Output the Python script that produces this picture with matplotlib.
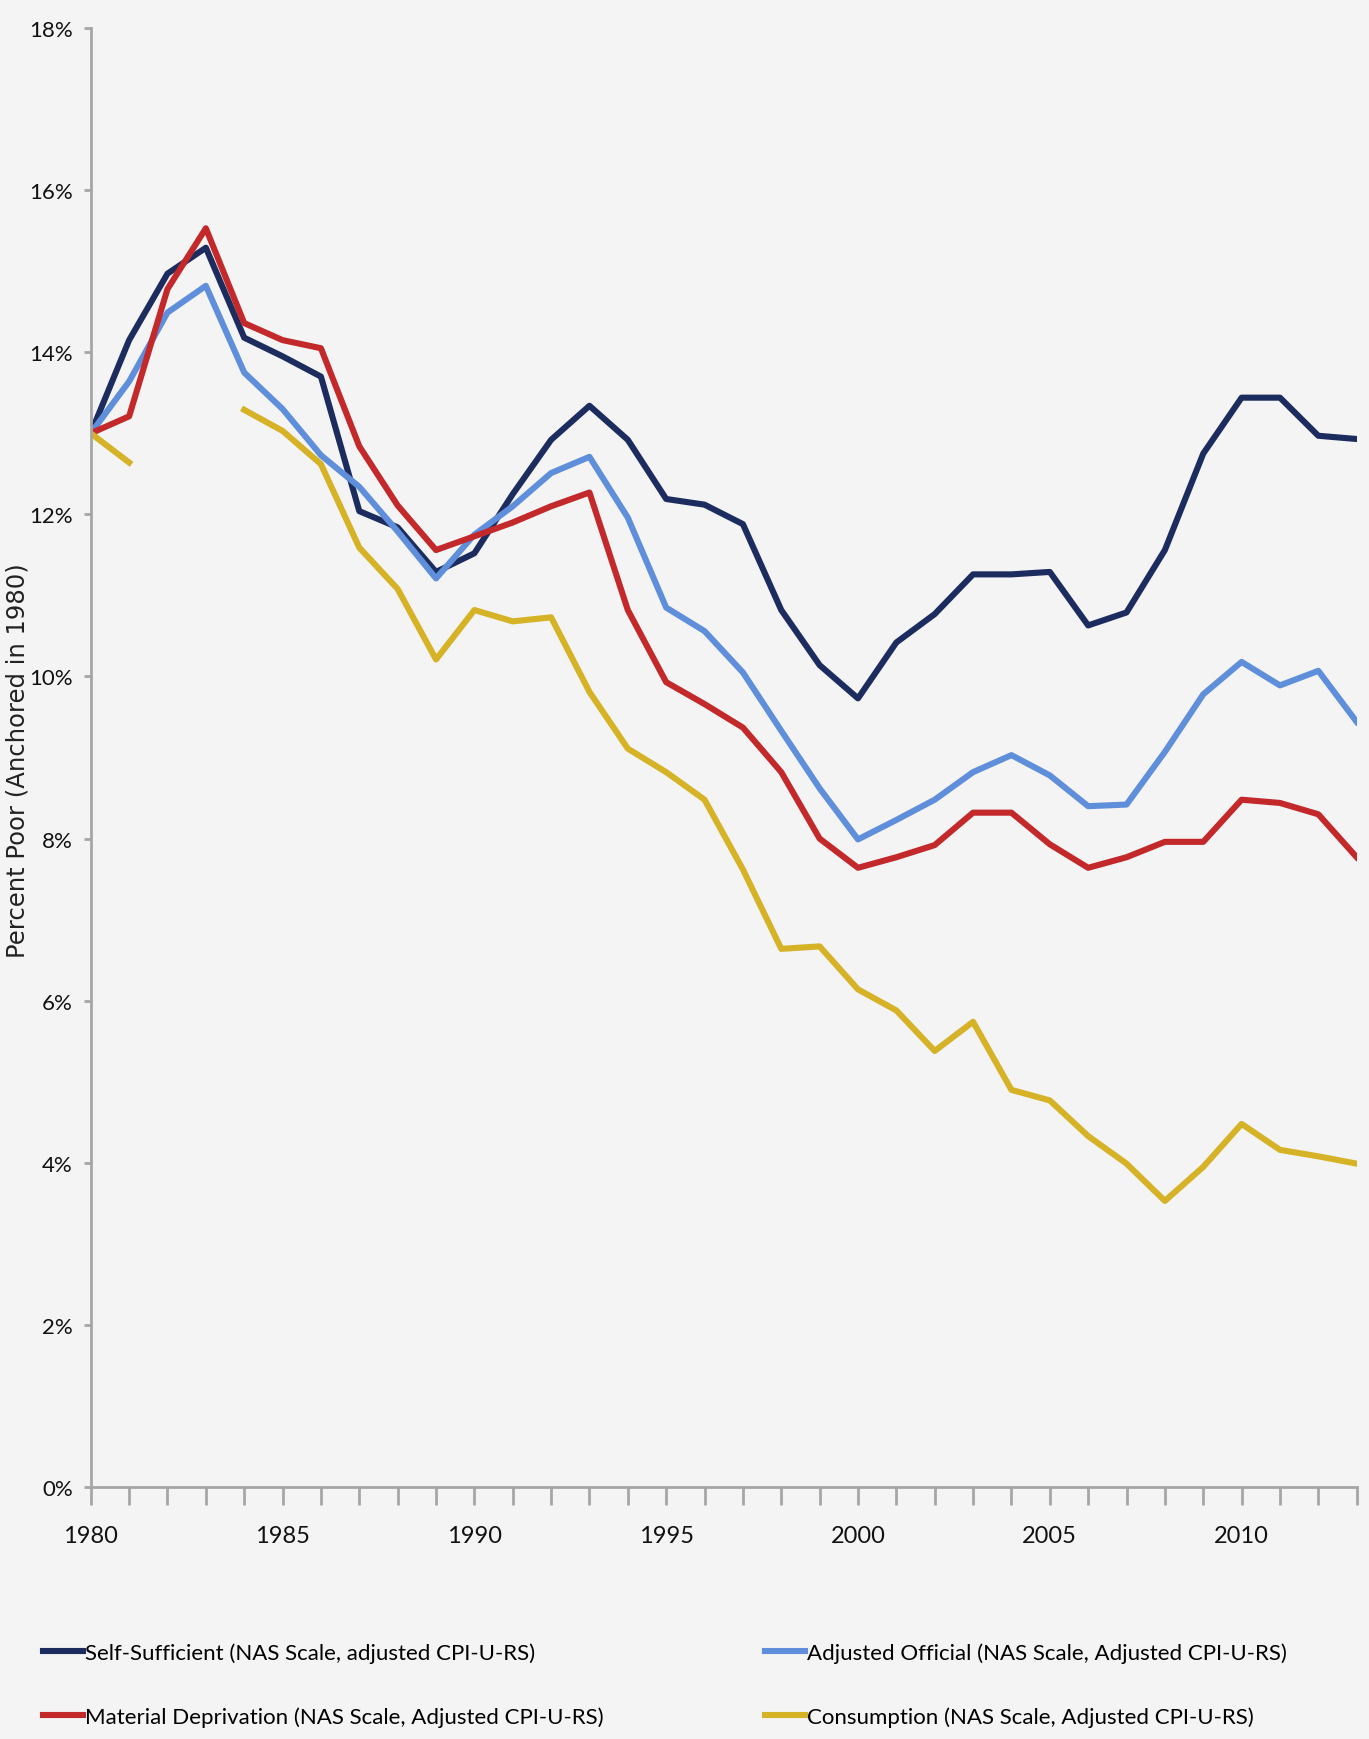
import numpy as np
import pandas as pd
import matplotlib
matplotlib.use("Agg")
import matplotlib.pyplot as plt
from matplotlib.ticker import FuncFormatter, MultipleLocator

# Values (percent poor, anchored in 1980)
years = list(range(1980, 2014))

self_sufficient = [13.0, 14.15, 14.97, 15.29, 14.18, 13.95, 13.70, 12.04, 11.84, 11.29,
                   11.52, 12.25, 12.92, 13.34, 12.92, 12.19, 12.12, 11.88, 10.82, 10.14,
                   9.73, 10.42, 10.77, 11.26, 11.26, 11.29, 10.63, 10.79, 11.56, 12.75,
                   13.44, 13.44, 12.97, 12.93]

adjusted_official = [13.0, 13.64, 14.49, 14.82, 13.75, 13.30, 12.73, 12.34, 11.79, 11.21,
                     11.75, 12.10, 12.51, 12.71, 11.96, 10.85, 10.56, 10.05, 9.33, 8.62,
                     7.99, 8.23, 8.48, 8.82, 9.03, 8.78, 8.40, 8.42, 9.07, 9.78,
                     10.18, 9.89, 10.07, 9.44]

material_deprivation = [13.0, 13.21, 14.78, 15.53, 14.36, 14.15, 14.05, 12.84, 12.11, 11.56,
                        11.73, 11.90, 12.10, 12.27, 10.82, 9.93, 9.66, 9.37, 8.82, 8.00,
                        7.64, 7.77, 7.92, 8.32, 8.32, 7.93, 7.64, 7.77, 7.96, 7.96,
                        8.48, 8.44, 8.30, 7.77]

# 1982 and 1983 are missing for consumption
consumption = [13.0, 12.64, np.nan, np.nan, 13.29, 13.03, 12.62, 11.59, 11.08, 10.21,
               10.82, 10.68, 10.73, 9.81, 9.11, 8.82, 8.48, 7.62, 6.64, 6.67,
               6.14, 5.88, 5.38, 5.74, 4.90, 4.77, 4.33, 3.99, 3.53, 3.95,
               4.48, 4.16, 4.08, 3.99]

labels = ["Self-Sufficient (NAS Scale, adjusted CPI-U-RS)",
          "Adjusted Official (NAS Scale, Adjusted CPI-U-RS)",
          "Material Deprivation (NAS Scale, Adjusted CPI-U-RS)",
          "Consumption (NAS Scale, Adjusted CPI-U-RS)"]

Data = pd.DataFrame({"year": years,
                     "self": self_sufficient,
                     "official": adjusted_official,
                     "material": material_deprivation,
                     "consumption": consumption})

bg = "#f4f4f4"
narrow = ["Lato", "DejaVu Sans"]

fig = plt.figure(figsize=(13.69, 17.40), dpi=100, facecolor=bg)
ax1 = fig.add_axes([0.0663, 0.1448, 0.9247, 0.8385], facecolor=bg)

l1, = ax1.plot(Data["year"], Data["self"], color="#1c2c5e", lw=4.4, label=labels[0])
l2, = ax1.plot(Data["year"], Data["official"], color="#5f8fdb", lw=4.4, label=labels[1])
l3, = ax1.plot(Data["year"], Data["material"], color="#c3282a", lw=4.4, label=labels[2])
l4, = ax1.plot(Data["year"], Data["consumption"], color="#d6b226", lw=4.4, label=labels[3])

ax1.set_xlim(1980, 2013)
ax1.set_ylim(0, 18)
ax1.yaxis.set_major_locator(MultipleLocator(2))
ax1.yaxis.set_major_formatter(FuncFormatter(lambda v, p: "%d%%" % v))
ax1.xaxis.set_major_locator(MultipleLocator(5))
ax1.xaxis.set_minor_locator(MultipleLocator(1))

for s in ["top", "right"]:
    ax1.spines[s].set_visible(False)
for s in ["left", "bottom"]:
    ax1.spines[s].set_color("#a6a6a6")
    ax1.spines[s].set_linewidth(2)

ax1.tick_params(axis="y", which="major", length=5, width=2, color="#a6a6a6", pad=8)
ax1.tick_params(axis="x", which="both", length=13, width=2, color="#a6a6a6", pad=14)
for t in ax1.get_yticklabels():
    t.set_family(narrow)
    t.set_fontsize(16)
    t.set_color("#111111")
for t in ax1.get_xticklabels():
    t.set_family(narrow)
    t.set_fontsize(17)
    t.set_color("#111111")

fig.text(0.0130, 0.563, "Percent Poor (Anchored in 1980)", rotation=90,
         ha="center", va="center", fontsize=17.5, family="DejaVu Sans", color="#222222")

leg1 = fig.legend([l1, l3], [labels[0], labels[2]], loc="upper left",
                  bbox_to_anchor=(0.017, 0.067), frameon=False, handlelength=1.8,
                  handletextpad=0.1, labelspacing=1.95, prop={"family": narrow, "size": 16})
leg2 = fig.legend([l2, l4], [labels[1], labels[3]], loc="upper left",
                  bbox_to_anchor=(0.544, 0.067), frameon=False, handlelength=1.8,
                  handletextpad=0.1, labelspacing=1.95, prop={"family": narrow, "size": 16})

plt.savefig("out.png", dpi=100, facecolor=bg)
print("Complete")
